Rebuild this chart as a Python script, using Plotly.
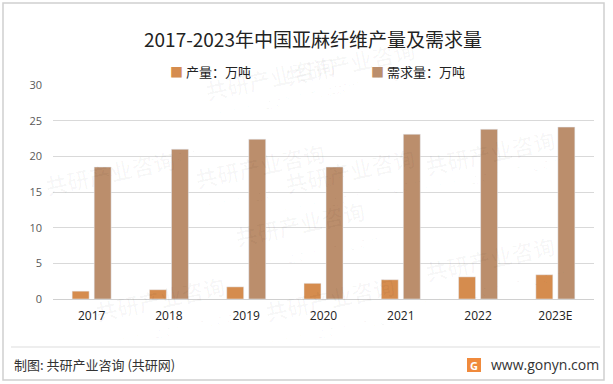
import plotly.graph_objects as go

years = ["2017", "2018", "2019", "2020", "2021", "2022", "2023E"]
production = [1.1, 1.3, 1.7, 2.2, 2.7, 3.1, 3.4]
demand = [18.5, 21.0, 22.4, 18.5, 23.1, 23.8, 24.1]
series_names = ["产量：万吨", "需求量：万吨"]
y_ticks = [0, 5, 10, 15, 20, 25, 30]

W, H = 613, 384
L, R, T, B = 53, 19, 85, 85
PW, PH = W - L - R, H - T - B

def px(x):
    return (x - L) / PW

def py(y):
    return (H - B - y) / PH

C_PROD = "#D58C4E"
C_DEM = "#BB8E6C"
FONT = "Noto Sans CJK SC, Noto Sans, sans-serif"

fig = go.Figure()
fig.add_trace(go.Bar(x=years, y=production, name=series_names[0], marker_color=C_PROD))
fig.add_trace(go.Bar(x=years, y=demand, name=series_names[1], marker_color=C_DEM))

annotations = []
# faint watermarks
wm_pos = [(200, 45), (420, 30), (560, 120), (190, 165), (300, 255), (420, 170), (330, 330), (90, 330), (560, 290), (40, 140)]
for (x, y) in wm_pos:
    annotations.append(dict(x=px(x), y=py(y), xref="paper", yref="paper", text="<b>共研产业咨询</b>",
                            showarrow=False, textangle=-12, font=dict(size=22, color="rgba(0,0,0,0.028)", family=FONT)))
    annotations.append(dict(x=px(x + 10), y=py(y + 26), xref="paper", yref="paper", text="w w w . g o n y n . c o m",
                            showarrow=False, textangle=-12, font=dict(size=14, color="rgba(0,0,0,0.028)", family=FONT)))

annotations += [
    dict(x=px(313), y=py(38), xref="paper", yref="paper", text="2017-2023年中国亚麻纤维产量及需求量",
         showarrow=False, font=dict(size=19, color="#222222", family=FONT), xanchor="center", yanchor="middle"),
    dict(x=px(168), y=py(72), xref="paper", yref="paper",
         text=f"<span style='color:{C_PROD}'>■</span> {series_names[0]}",
         showarrow=False, font=dict(size=13, color="#222222", family=FONT), xanchor="left", yanchor="middle"),
    dict(x=px(369), y=py(72), xref="paper", yref="paper",
         text=f"<span style='color:{C_DEM}'>■</span> {series_names[1]}",
         showarrow=False, font=dict(size=13, color="#222222", family=FONT), xanchor="left", yanchor="middle"),
    dict(x=px(12), y=py(364), xref="paper", yref="paper", text="制图: 共研产业咨询 (共研网)",
         showarrow=False, font=dict(size=13, color="#333333", family=FONT), xanchor="left", yanchor="middle"),
    dict(x=px(489), y=py(364), xref="paper", yref="paper", text="www.gonyn.com",
         showarrow=False, font=dict(size=14, color="#333333", family="Open Sans, sans-serif"), xanchor="left", yanchor="middle"),
    dict(x=px(474), y=py(365), xref="paper", yref="paper", text="<b>G</b>",
         showarrow=False, font=dict(size=11, color="white", family="Noto Sans, sans-serif"), xanchor="center", yanchor="middle"),
]

shapes = [
    dict(type="rect", xref="paper", yref="paper", x0=px(3), x1=px(604), y0=py(3), y1=py(380),
         line=dict(color="#d0d0d0", width=1.5), fillcolor="rgba(0,0,0,0)", layer="below"),
    dict(type="line", xref="paper", yref="paper", x0=px(11), x1=px(600), y0=py(347), y1=py(347),
         line=dict(color="#dddddd", width=1)),
    dict(type="rect", xref="paper", yref="paper", x0=px(467), x1=px(481), y0=py(358), y1=py(372),
         line=dict(width=0), fillcolor="#F08A3C"),
]

fig.update_layout(
    width=W, height=H,
    margin=dict(l=L, r=R, t=T, b=B),
    paper_bgcolor="white", plot_bgcolor="white",
    barmode="group", bargap=0.43, bargroupgap=0.23,
    showlegend=False,
    annotations=annotations, shapes=shapes,
    font=dict(family=FONT),
    xaxis=dict(showgrid=False, showline=False, ticks="", ticklabelstandoff=8,
               tickfont=dict(size=12, color="#222222", family="Open Sans, sans-serif")),
    yaxis=dict(range=[0, 30], tickvals=y_ticks, showgrid=True, gridcolor="#d9d9d9", gridwidth=1,
               zeroline=True, zerolinecolor="#d0d0d0", zerolinewidth=1, showline=False,
               ticks="", ticklabelstandoff=10,
               tickfont=dict(size=11, color="#595959", family="Open Sans, sans-serif")),
)

fig.write_html("out.html")
